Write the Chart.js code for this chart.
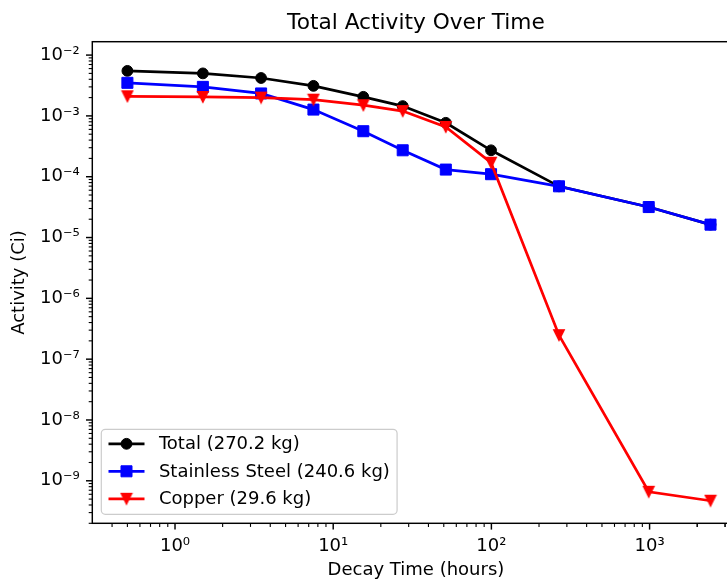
<!DOCTYPE html>
<html>
<head>
<meta charset="utf-8">
<script src="https://cdn.jsdelivr.net/npm/chart.js@4.4.1/dist/chart.umd.min.js"></script>
<style>
  html, body { margin: 0; padding: 0; overflow: hidden; background: #fff; }
  #wrap { width: 727px; height: 579px; overflow: hidden; }
  canvas { display: block; }
</style>
</head>
<body>
<div id="wrap"><canvas id="c" width="760" height="579"></canvas></div>
<script>
// Decay times (hours) and activity (Ci) per material
const decayHours = [0.5, 1.5, 3.5, 7.5, 15.5, 27.5, 51.5, 99.5, 267.5, 987.5, 2427.5];
const totalCi    = [5.5e-3, 5.0e-3, 4.2e-3, 3.12e-3, 2.06e-3, 1.45e-3, 7.7e-4, 2.72e-4, 6.95e-5, 3.17e-5, 1.63e-5];
const steelCi    = [3.5e-3, 3.0e-3, 2.34e-3, 1.27e-3, 5.6e-4, 2.72e-4, 1.31e-4, 1.1e-4, 6.95e-5, 3.17e-5, 1.63e-5];
const copperCi   = [2.1e-3, 2.05e-3, 2.0e-3, 1.85e-3, 1.5e-3, 1.2e-3, 6.6e-4, 1.7e-4, 2.48e-7, 6.6e-10, 4.7e-10];
const seriesNames = ['Total (270.2 kg)', 'Stainless Steel (240.6 kg)', 'Copper (29.6 kg)'];

// Axis ticks: labelled decades
const xMajorTicks  = [1, 10, 100, 1000];
const xTickLabels  = ['10\u2070', '10\u00b9', '10\u00b2', '10\u00b3'];
const yMajorTicks  = [1e-9, 1e-8, 1e-7, 1e-6, 1e-5, 1e-4, 1e-3, 1e-2];
const yTickLabels  = ['10\u207b\u2079', '10\u207b\u2078', '10\u207b\u2077', '10\u207b\u2076',
                      '10\u207b\u2075', '10\u207b\u2074', '10\u207b\u00b3', '10\u207b\u00b2'];

const X_MIN = 0.334, X_MAX = 3707;
const Y_MIN = 2.0e-10, Y_MAX = 1.66e-2;

const FONT = '"DejaVu Sans", "Liberation Sans", sans-serif';

// Downward triangle marker
function makeTriangle(color) {
  const c = document.createElement('canvas');
  c.width = 14; c.height = 14;
  const g = c.getContext('2d');
  g.fillStyle = color; g.strokeStyle = color; g.lineWidth = 1.2; g.lineJoin = 'miter';
  g.beginPath();
  g.moveTo(1.6, 1.6); g.lineTo(12.4, 1.6); g.lineTo(7, 12.4); g.closePath();
  g.fill(); g.stroke();
  return c;
}
const triRed = makeTriangle('#ff0000');

// Full set of log ticks (decades plus 2..9 minors) within a range
function logTicks(majors, lo, hi) {
  const out = [];
  const first = majors[0] / 10;
  for (let d = first; d <= majors[majors.length - 1] * 1.0001; d *= 10) {
    for (let m = 1; m <= 9; m++) {
      const v = +(d * m).toPrecision(6);
      if (v >= lo && v <= hi) out.push(v);
    }
  }
  // minors above the last decade
  const last = majors[majors.length - 1];
  for (let m = 2; m <= 9; m++) {
    const v = +(last * m).toPrecision(6);
    if (v >= lo && v <= hi) out.push(v);
  }
  return out;
}
function isMajor(v, majors) {
  return majors.findIndex(m => Math.abs(v / m - 1) < 1e-6);
}

const xTickAll = logTicks(xMajorTicks, X_MIN, X_MAX);
const yTickAll = logTicks(yMajorTicks, Y_MIN, Y_MAX);

function series(values) {
  return decayHours.map((h, i) => ({ x: h, y: values[i] }));
}

// Frame and tick marks, drawn above the lines
const frameTicks = {
  id: 'frameTicks',
  afterDatasetsDraw(chart) {
    const { ctx, chartArea: a, scales: { x, y } } = chart;
    ctx.save();
    ctx.strokeStyle = '#000';
    for (const v of xTickAll) {
      const px = x.getPixelForValue(v);
      const maj = isMajor(v, xMajorTicks) >= 0;
      ctx.lineWidth = maj ? 1.45 : 1.1;
      ctx.beginPath();
      ctx.moveTo(px, a.bottom);
      ctx.lineTo(px, a.bottom + (maj ? 6.3 : 3.6));
      ctx.stroke();
    }
    for (const v of yTickAll) {
      const py = y.getPixelForValue(v);
      const maj = isMajor(v, yMajorTicks) >= 0;
      ctx.lineWidth = maj ? 1.45 : 1.1;
      ctx.beginPath();
      ctx.moveTo(a.left, py);
      ctx.lineTo(a.left - (maj ? 6.3 : 3.6), py);
      ctx.stroke();
    }
    ctx.lineWidth = 1.45;
    ctx.strokeRect(a.left, a.top, a.right - a.left, a.bottom - a.top);
    ctx.restore();
  }
};

function drawMarker(ctx, ds, cx, cy) {
  const st = ds.pointStyle;
  if (st instanceof HTMLCanvasElement) {
    ctx.drawImage(st, cx - st.width / 2, cy - st.height / 2);
    return;
  }
  ctx.fillStyle = ds.pointBackgroundColor;
  ctx.strokeStyle = ds.pointBorderColor;
  ctx.lineWidth = ds.pointBorderWidth;
  ctx.beginPath();
  if (st === 'circle') {
    ctx.arc(cx, cy, ds.pointRadius, 0, Math.PI * 2);
  } else {
    const s = Math.SQRT1_2 * ds.pointRadius;
    ctx.rect(cx - s, cy - s, 2 * s, 2 * s);
  }
  ctx.fill(); ctx.stroke();
}

// Title centred over the plot area, plus the legend box in the lower left
const overlay = {
  id: 'overlay',
  afterDraw(chart) {
    const { ctx, chartArea: a } = chart;
    ctx.save();
    ctx.fillStyle = '#000';
    ctx.font = '21.7px ' + FONT;
    ctx.textAlign = 'center';
    ctx.textBaseline = 'alphabetic';
    ctx.fillText('Total Activity Over Time', (a.left + a.right) / 2, 29);

    // legend
    ctx.font = '18px ' + FONT;
    const textW = Math.max(...seriesNames.map(s => ctx.measureText(s).width));
    const left = a.left + 9, bottom = a.bottom - 9;
    const h = 85, top = bottom - h;
    const handleX0 = left + 7.2, handleX1 = handleX0 + 36, textX = handleX1 + 14.4;
    const w = textX + textW + 7.2 - left;
    ctx.beginPath();
    ctx.roundRect(left, top, w, h, 4);
    ctx.fillStyle = 'rgba(255,255,255,0.8)';
    ctx.fill();
    ctx.strokeStyle = '#cccccc';
    ctx.lineWidth = 1.2;
    ctx.stroke();

    const order = [0, 1, 2];
    order.forEach((i, row) => {
      const ds = chart.data.datasets[i];
      const cy = top + 14.5 + row * 27.5;
      ctx.strokeStyle = ds.borderColor;
      ctx.lineWidth = ds.borderWidth;
      ctx.beginPath();
      ctx.moveTo(handleX0, cy); ctx.lineTo(handleX1, cy);
      ctx.stroke();
      drawMarker(ctx, ds, (handleX0 + handleX1) / 2, cy);
      ctx.fillStyle = '#000';
      ctx.textAlign = 'left';
      ctx.textBaseline = 'middle';
      ctx.fillText(seriesNames[i], textX, cy + 1);
    });
    ctx.restore();
  }
};

const tickFont = { family: FONT, size: 18 };

new Chart(document.getElementById('c'), {
  type: 'line',
  data: {
    datasets: [
      {
        label: seriesNames[0], data: series(totalCi), order: 3,
        borderColor: '#000000', backgroundColor: '#000000', borderWidth: 2.7,
        pointStyle: 'circle', pointRadius: 5.4, pointBorderWidth: 1,
        pointBackgroundColor: '#000000', pointBorderColor: '#000000', pointHoverRadius: 5.4
      },
      {
        label: seriesNames[1], data: series(steelCi), order: 2,
        borderColor: '#0000ff', backgroundColor: '#0000ff', borderWidth: 2.7,
        pointStyle: 'rect', pointRadius: 7.8, pointBorderWidth: 1,
        pointBackgroundColor: '#0000ff', pointBorderColor: '#0000ff', pointHoverRadius: 7.8
      },
      {
        label: seriesNames[2], data: series(copperCi), order: 1,
        borderColor: '#ff0000', backgroundColor: '#ff0000', borderWidth: 2.7,
        pointStyle: triRed, pointRadius: 7, pointBorderWidth: 0,
        pointBackgroundColor: '#ff0000', pointBorderColor: '#ff0000', pointHoverRadius: 7
      }
    ]
  },
  options: {
    responsive: false,
    devicePixelRatio: 1,
    animation: false,
    events: [],
    layout: { padding: { left: 0, right: 20.4, top: 41.7, bottom: 0 } },
    plugins: { legend: { display: false }, title: { display: false }, tooltip: { enabled: false } },
    elements: { line: { tension: 0, fill: false } },
    scales: {
      x: {
        type: 'logarithmic', position: 'bottom', min: X_MIN, max: X_MAX,
        afterBuildTicks: s => { s.ticks = xTickAll.map(v => ({ value: v })); },
        afterFit: s => { s.height = 55.7; },
        grid: { display: false, drawTicks: false },
        border: { display: false },
        ticks: {
          autoSkip: false, maxRotation: 0, minRotation: 0, padding: 12.6,
          color: '#000', font: tickFont,
          callback: v => { const k = isMajor(v, xMajorTicks); return k >= 0 ? xTickLabels[k] : ''; }
        },
        title: {
          display: true, text: 'Decay Time (hours)', color: '#000',
          font: { family: FONT, size: 18, lineHeight: 1 }, padding: { top: 0, bottom: 0 }
        }
      },
      y: {
        type: 'logarithmic', position: 'left', min: Y_MIN, max: Y_MAX,
        afterBuildTicks: s => { s.ticks = yTickAll.map(v => ({ value: v })); },
        afterFit: s => { s.width = 92.3; },
        grid: { display: false, drawTicks: false },
        border: { display: false },
        ticks: {
          autoSkip: false, padding: 12.6, color: '#000', font: tickFont,
          callback: v => { const k = isMajor(v, yMajorTicks); return k >= 0 ? yTickLabels[k] : ''; }
        },
        title: {
          display: true, text: 'Activity (Ci)', color: '#000',
          font: { family: FONT, size: 18, lineHeight: 1 }, padding: { top: 10.2, bottom: 0 }
        }
      }
    }
  },
  plugins: [frameTicks, overlay]
});
</script>
</body>
</html>
